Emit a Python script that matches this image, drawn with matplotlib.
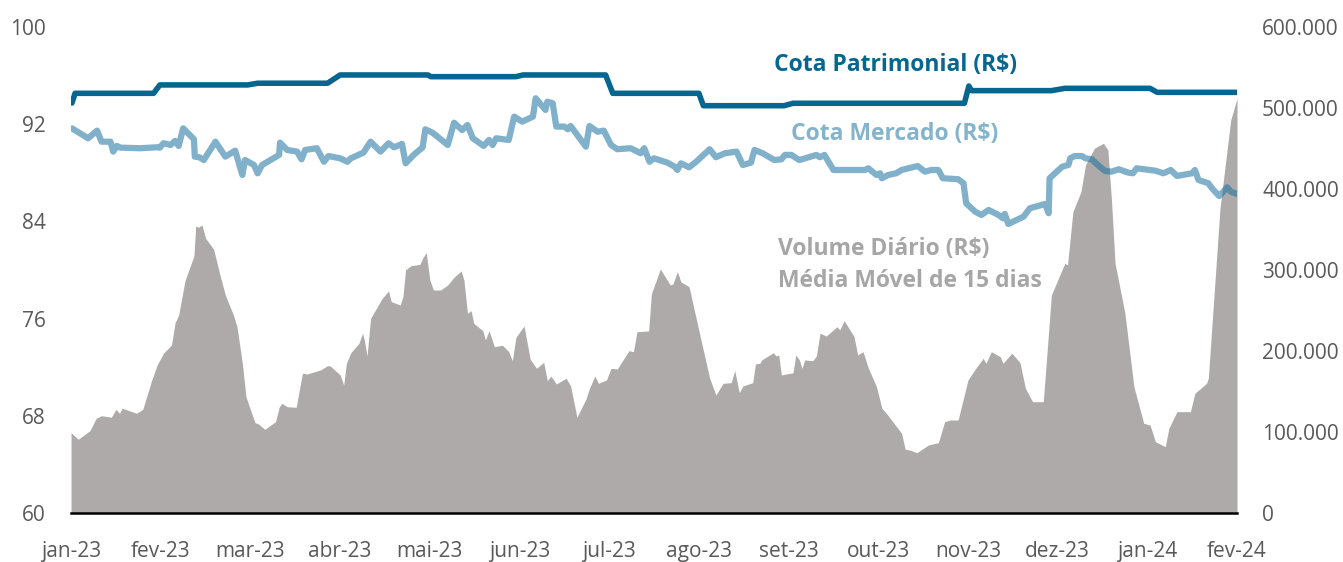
import matplotlib
matplotlib.use("Agg")
import matplotlib.pyplot as plt
from matplotlib.ticker import FuncFormatter, FixedLocator

plt.rcParams['font.family'] = ['Open Sans', 'DejaVu Sans']

# x positions are in months since jan-23 (0 = jan-23, 13 = fev-24)
month_labels = ["jan-23", "fev-23", "mar-23", "abr-23", "mai-23", "jun-23", "jul-23",
                "ago-23", "set-23", "out-23", "nov-23", "dez-23", "jan-24", "fev-24"]

# Cota Patrimonial (R$) - left axis
pat_m = [0.01, 0.045, 0.92, 0.99, 1.97, 2.08, 2.86, 3.00, 3.98, 4.01, 4.96, 5.04, 5.96,
         6.04, 7.00, 7.05, 7.95, 8.05, 9.96, 10.01, 10.04, 10.93, 11.08, 12.03, 12.11, 13.0]
pat_v = [93.74, 94.54, 94.54, 95.23, 95.23, 95.37, 95.37, 96.05, 96.05, 95.91, 95.91, 96.05, 96.05,
         94.54, 94.54, 93.52, 93.52, 93.72, 93.72, 95.14, 94.76, 94.76, 94.95, 94.95, 94.62, 94.62]

# Cota Mercado (R$) - left axis
mer_m = [0.01, 0.19, 0.29, 0.34, 0.44, 0.47, 0.51, 0.55, 0.77, 0.96, 0.99, 1.03, 1.11, 1.16, 1.20,
         1.25, 1.37, 1.38, 1.43, 1.48, 1.61, 1.72, 1.83, 1.91, 1.94, 2.04, 2.08, 2.13, 2.32, 2.33,
         2.41, 2.52, 2.57, 2.61, 2.74, 2.82, 2.87, 3.00, 3.08, 3.12, 3.26, 3.34, 3.45, 3.54, 3.60,
         3.69, 3.73, 3.82, 3.92, 3.95, 4.03, 4.20, 4.27, 4.36, 4.42, 4.48, 4.60, 4.66, 4.70, 4.74,
         4.88, 4.94, 5.03, 5.15, 5.18, 5.29, 5.31, 5.37, 5.41, 5.50, 5.54, 5.57, 5.74, 5.78, 5.87,
         5.94, 6.02, 6.09, 6.24, 6.35, 6.39, 6.45, 6.50, 6.65, 6.73, 6.76, 6.80, 6.89, 6.97, 7.12,
         7.19, 7.29, 7.42, 7.49, 7.58, 7.62, 7.71, 7.84, 7.92, 7.96, 8.03, 8.12, 8.31, 8.35, 8.40,
         8.50, 8.59, 8.85, 8.89, 8.98, 9.02, 9.04, 9.11, 9.20, 9.26, 9.44, 9.52, 9.59, 9.67, 9.72,
         9.89, 9.95, 9.98, 10.08, 10.15, 10.23, 10.34, 10.39, 10.41, 10.45, 10.62, 10.69, 10.86,
         10.90, 10.91, 11.05, 11.12, 11.14, 11.19, 11.27, 11.31, 11.38, 11.46, 11.53, 11.60, 11.68,
         11.79, 11.84, 11.88, 12.09, 12.18, 12.26, 12.33, 12.50, 12.53, 12.57, 12.68, 12.72, 12.80,
         12.83, 12.89, 12.93, 13.00]
mer_v = [91.66, 90.84, 91.47, 90.56, 90.56, 89.74, 90.21, 90.07, 90.02, 90.10, 90.07, 90.43, 90.29,
         90.62, 90.21, 91.66, 90.76, 89.33, 89.28, 89.05, 90.56, 89.33, 89.82, 87.82, 89.05, 88.64,
         87.96, 88.64, 89.47, 90.48, 89.88, 89.74, 89.11, 89.88, 90.02, 88.91, 89.38, 89.19, 88.91,
         89.19, 89.66, 90.56, 89.74, 90.43, 90.10, 90.37, 88.78, 89.47, 90.10, 91.58, 91.30, 90.29,
         92.12, 91.52, 91.93, 90.84, 90.21, 90.70, 90.29, 90.84, 90.70, 92.62, 92.21, 92.62, 94.13,
         93.17, 93.85, 93.72, 91.80, 91.80, 91.58, 91.85, 90.15, 91.85, 91.38, 91.47, 90.29, 89.94,
         90.02, 89.61, 90.02, 88.91, 89.19, 88.83, 88.50, 88.23, 88.78, 88.45, 88.91, 89.94, 89.28,
         89.61, 89.74, 88.64, 88.83, 89.88, 89.61, 89.05, 89.11, 89.47, 89.47, 89.05, 89.47, 89.28,
         89.47, 88.23, 88.23, 88.23, 88.37, 87.82, 87.96, 87.55, 87.82, 87.96, 88.23, 88.56, 88.09,
         88.23, 88.23, 87.55, 87.47, 87.14, 85.49, 84.80, 84.53, 84.94, 84.53, 84.26, 84.61, 83.79,
         84.39, 85.08, 85.43, 84.67, 87.55, 88.50, 88.64, 89.19, 89.38, 89.38, 89.19, 89.11, 88.56,
         88.15, 88.09, 88.29, 88.01, 87.96, 88.37, 88.17, 87.96, 88.23, 87.74, 87.96, 88.23, 87.41,
         87.14, 86.73, 86.09, 86.31, 86.81, 86.45, 86.26]

# Volume Diário (R$) - média móvel de 15 dias, in R$ thousands - right axis
vol_m = [0.00, 0.08, 0.21, 0.28, 0.34, 0.45, 0.50, 0.54, 0.57, 0.73, 0.80, 0.90, 0.96, 1.03, 1.12,
         1.16, 1.20, 1.27, 1.37, 1.39, 1.42, 1.46, 1.50, 1.59, 1.66, 1.72, 1.81, 1.85, 1.91, 1.95,
         2.05, 2.09, 2.16, 2.28, 2.32, 2.35, 2.41, 2.51, 2.58, 2.63, 2.78, 2.86, 2.89, 3.00, 3.04,
         3.07, 3.12, 3.21, 3.25, 3.27, 3.30, 3.34, 3.47, 3.54, 3.57, 3.67, 3.70, 3.73, 3.79, 3.89,
         3.92, 3.96, 4.00, 4.04, 4.12, 4.20, 4.27, 4.35, 4.38, 4.42, 4.46, 4.49, 4.59, 4.62, 4.66,
         4.72, 4.81, 4.88, 4.92, 4.96, 5.05, 5.12, 5.19, 5.27, 5.31, 5.35, 5.41, 5.52, 5.57, 5.64,
         5.74, 5.78, 5.84, 5.88, 5.97, 6.02, 6.09, 6.22, 6.27, 6.31, 6.44, 6.47, 6.57, 6.68, 6.71,
         6.76, 6.80, 6.89, 6.99, 7.12, 7.19, 7.27, 7.36, 7.40, 7.45, 7.49, 7.60, 7.63, 7.68, 7.70,
         7.83, 7.86, 7.89, 7.92, 8.05, 8.08, 8.12, 8.15, 8.18, 8.27, 8.31, 8.35, 8.42, 8.54, 8.57,
         8.62, 8.73, 8.77, 8.83, 8.89, 8.98, 9.04, 9.09, 9.26, 9.30, 9.35, 9.43, 9.56, 9.67, 9.74,
         9.80, 9.89, 9.91, 10.00, 10.10, 10.17, 10.20, 10.26, 10.36, 10.39, 10.49, 10.58, 10.64,
         10.72, 10.84, 10.93, 11.08, 11.11, 11.17, 11.26, 11.31, 11.41, 11.51, 11.56, 11.60, 11.64,
         11.75, 11.85, 11.96, 12.03, 12.09, 12.20, 12.24, 12.33, 12.48, 12.53, 12.66, 12.68, 12.81,
         12.93, 13.00]
vol_v = [99.1, 91.0, 101.6, 116.9, 120.1, 118.2, 128.0, 123.1, 129.3, 123.1, 128.0, 164.2, 182.7,
         197.2, 207.4, 234.9, 244.4, 286.8, 317.3, 354.3, 352.7, 355.6, 339.1, 325.6, 293.8, 269.1,
         244.4, 230.0, 184.8, 143.6, 111.5, 109.9, 103.3, 112.7, 130.5, 135.4, 131.2, 130.5, 172.5,
         171.6, 176.5, 181.9, 181.5, 170.4, 158.0, 184.8, 197.9, 209.5, 221.9, 213.6, 193.8, 240.4,
         265.1, 274.1, 260.9, 256.8, 267.0, 300.0, 305.3, 307.0, 314.5, 321.4, 287.7, 275.3, 275.3,
         281.5, 291.0, 298.8, 287.7, 246.5, 249.8, 234.2, 225.1, 213.6, 225.1, 205.3, 207.0, 199.1,
         188.0, 216.9, 230.9, 189.8, 178.6, 186.1, 163.3, 169.1, 159.3, 166.3, 156.8, 118.2, 140.4,
         154.0, 169.1, 160.1, 164.2, 178.6, 177.8, 200.4, 199.1, 223.8, 224.7, 270.4, 301.2, 281.5,
         282.7, 297.9, 285.2, 279.4, 230.0, 166.3, 145.7, 160.1, 160.9, 175.7, 148.5, 156.8, 160.9,
         184.0, 184.8, 188.9, 197.9, 193.8, 195.1, 170.4, 173.2, 195.1, 188.9, 178.6, 188.9, 188.0,
         193.8, 221.9, 218.5, 230.0, 225.9, 237.4, 217.7, 195.1, 199.1, 178.6, 155.9, 129.3, 123.1,
         98.4, 78.6, 77.8, 74.4, 84.0, 86.8, 112.7, 114.8, 114.8, 123.8, 164.2, 180.6, 191.0, 184.8,
         199.1, 193.0, 184.8, 197.2, 185.6, 154.0, 137.4, 137.4, 269.1, 308.3, 306.2, 372.0, 396.7,
         429.6, 450.3, 456.4, 448.2, 386.4, 308.3, 246.5, 155.9, 110.7, 108.6, 88.0, 81.9, 104.6,
         125.1, 125.1, 147.8, 160.1, 166.3, 376.2, 485.2, 512.0]

left_ticks = [60, 68, 76, 84, 92, 100]
right_ticks = [0, 100, 200, 300, 400, 500, 600]

C_PAT = "#06668f"
C_MER = "#1a72a0"
C_VOL = "#aeaaaa"
C_TXT = "#595959"

fig = plt.figure(figsize=(13.43, 5.62), dpi=100)
ax = fig.add_axes([0.0529, 0.0872, 0.8682, 0.8648])
ax2 = ax.twinx()

# volume area on right axis, behind
ax2.fill_between(vol_m, vol_v, 0, color=C_VOL, linewidth=0)
ax2.set_ylim(0, 600)
ax2.yaxis.set_major_locator(FixedLocator(right_ticks))
ax2.yaxis.set_major_formatter(FuncFormatter(
    lambda v, p: "0" if v == 0 else f"{v*1000:,.0f}".replace(",", ".")))

# lines on left axis, drawn on top
ax.set_zorder(ax2.get_zorder() + 1)
ax.patch.set_visible(False)
ax.plot(pat_m, pat_v, color=C_PAT, lw=4.0, solid_joinstyle="round", solid_capstyle="round")
ax.plot(mer_m, mer_v, color=C_MER, alpha=0.55, lw=4.5, solid_joinstyle="round", solid_capstyle="round")
ax.set_ylim(60, 100)
ax.set_xlim(0, 13)
ax.yaxis.set_major_locator(FixedLocator(left_ticks))
ax.set_xticks(range(len(month_labels)))
ax.set_xticklabels(month_labels)

for a in (ax, ax2):
    for s in a.spines.values():
        s.set_visible(False)
ax.spines["bottom"].set_visible(True)
ax.spines["bottom"].set_color("black")
ax.spines["bottom"].set_linewidth(1.8)

ax.tick_params(axis="y", length=0, pad=18, labelsize=15, labelcolor=C_TXT)
ax.tick_params(axis="x", length=0, pad=20, labelsize=15, labelcolor=C_TXT)
ax2.tick_params(axis="y", length=0, pad=18, labelsize=15, labelcolor=C_TXT)

ax.text(0.7067, 0.922, "Cota Patrimonial (R$)", transform=ax.transAxes, ha="center", va="center",
        fontsize=16.5, fontweight="bold", color=C_PAT)
ax.text(0.7067, 0.780, "Cota Mercado (R$)", transform=ax.transAxes, ha="center", va="center",
        fontsize=16.5, fontweight="bold", color="#84b4cc")
ax.text(0.606, 0.543, "Volume Diário (R$)", transform=ax.transAxes, ha="left", va="center",
        fontsize=16.5, fontweight="bold", color="#a6a6a6")
ax.text(0.606, 0.477, "Média Móvel de 15 dias", transform=ax.transAxes, ha="left", va="center",
        fontsize=16.5, fontweight="bold", color="#a6a6a6")

fig.savefig("out.png", dpi=100)
